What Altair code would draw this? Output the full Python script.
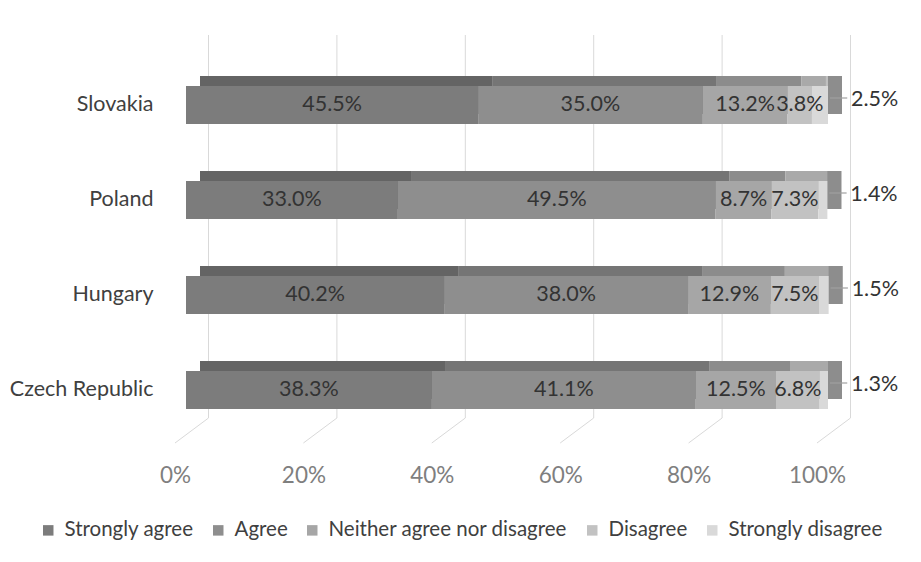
import altair as alt
import pandas as pd

countries = ["Slovakia", "Poland", "Hungary", "Czech Republic"]
categories = ["Strongly agree", "Agree", "Neither agree nor disagree", "Disagree", "Strongly disagree"]
slovakia = [45.5, 35.0, 13.2, 3.8, 2.5]
poland = [33.0, 49.5, 8.7, 7.3, 1.4]
hungary = [40.2, 38.0, 12.9, 7.5, 1.5]
czech = [38.3, 41.1, 12.5, 6.8, 1.3]
series = [slovakia, poland, hungary, czech]

tick_values = [0, 20, 40, 60, 80, 100]
tick_labels = ["0%", "20%", "40%", "60%", "80%", "100%"]

front_colors = ["#7c7c7c", "#8e8e8e", "#a6a6a6", "#c2c2c2", "#d9d9d9"]
top_colors = ["#646464", "#757575", "#8c8c8c", "#a9a9a9", "#bfbfbf"]
side_color = "#8d8d8d"

FONT = "Lato"
FS = 21.5

rows = []
leader_rows = []
for c, vals in zip(countries, series):
    start = 0.0
    for i, (cat, v) in enumerate(zip(categories, vals)):
        end = start + v
        rows.append({
            "country": c, "category": cat, "idx": i, "value": v,
            "start": start, "end": end, "mid": (start + end) / 2,
            "label": f"{v:.1f}%", "top": top_colors[i],
        })
        start = end
    leader_rows.append({"country": c, "x": start + 0.3, "k": 0})
    leader_rows.append({"country": c, "x": start + 3.0, "k": 1})
df = pd.DataFrame(rows)
leaders = pd.DataFrame(leader_rows)
ticks = pd.DataFrame({"v": tick_values, "label": tick_labels})

xs = alt.Scale(domain=[0, 100], nice=False, zero=False)
yscale = alt.Scale(domain=countries, paddingInner=0.6, paddingOuter=0.5895)
yenc = alt.Y("country:N", sort=countries, scale=yscale,
             axis=alt.Axis(title=None, domain=False, ticks=False, grid=False, labelPadding=33,
                           labelFontSize=FS, labelFont=FONT, labelColor="#404040"))

grid = alt.Chart(ticks).mark_rule(color="#d9d9d9", strokeWidth=1, xOffset=22.5).encode(
    x=alt.X("v:Q", scale=xs, axis=None),
    y=alt.value(5), y2=alt.value(388))

diag = alt.Chart(ticks).mark_rule(color="#d9d9d9", strokeWidth=1, xOffset=22.5, x2Offset=-11).encode(
    x=alt.X("v:Q", scale=xs, axis=None), x2="v:Q",
    y=alt.value(388), y2=alt.value(413))

tick_text = alt.Chart(ticks).mark_text(font=FONT, fontSize=22.5, color="#7f7f7f",
                                       baseline="middle", xOffset=-10.5).encode(
    x=alt.X("v:Q", scale=xs, axis=None), y=alt.value(446), text="label:N")

depth = alt.Chart(df).mark_bar(xOffset=14, x2Offset=14, yOffset=-10, y2Offset=-10).encode(
    x=alt.X("start:Q", scale=xs, axis=None), x2="end:Q",
    y=yenc, color=alt.Color("top:N", scale=None))

side = alt.Chart(df).transform_filter(alt.datum.idx == 4).mark_bar(
    color=side_color, xOffset=0, x2Offset=14, yOffset=-10, y2Offset=-10).encode(
    x=alt.X("end:Q", scale=xs, axis=None), x2="end:Q", y=yenc)

front = alt.Chart(df).mark_bar().encode(
    x=alt.X("start:Q", scale=xs, axis=None), x2="end:Q",
    y=yenc,
    color=alt.Color("category:N", sort=categories,
                    scale=alt.Scale(domain=categories, range=front_colors),
                    legend=alt.Legend(title=None, orient="none", legendX=-148, legendY=490,
                                      direction="horizontal", columns=5, symbolType="square",
                                      symbolSize=110, symbolStrokeWidth=0, labelFontSize=20.5,
                                      labelFont=FONT, labelColor="#404040", columnPadding=14,
                                      labelOffset=6, labelLimit=0)),
    order=alt.Order("idx:Q"))

inside = alt.Chart(df).transform_filter(alt.datum.idx < 4).mark_text(
    font=FONT, fontSize=FS, color="#333333", baseline="middle").encode(
    x=alt.X("mid:Q", scale=xs, axis=None), y=yenc, text="label:N")

outside = alt.Chart(df).transform_filter(alt.datum.idx == 4).mark_text(
    font=FONT, fontSize=FS, color="#333333", baseline="middle", align="left",
    xOffset=23, yOffset=-5).encode(
    x=alt.X("end:Q", scale=xs, axis=None), y=yenc, text="label:N")

leader = alt.Chart(leaders).mark_line(color="#a0a0a0", strokeWidth=1.2, yOffset=-7).encode(
    x=alt.X("x:Q", scale=xs, axis=None), y=yenc, detail="country:N", order="k:Q")

chart = alt.layer(grid, diag, tick_text, depth, side, front, inside, leader, outside).properties(
    width=642, height=435,
    background="white",
    autosize=alt.AutoSizeParams(type="none"),
    padding={"left": 186, "top": 30, "right": 93, "bottom": 97},
).configure_view(stroke=None, strokeWidth=0).configure_axis(domain=False, grid=False)

chart.save("out.html", embed_options={"renderer": "svg", "actions": False})
